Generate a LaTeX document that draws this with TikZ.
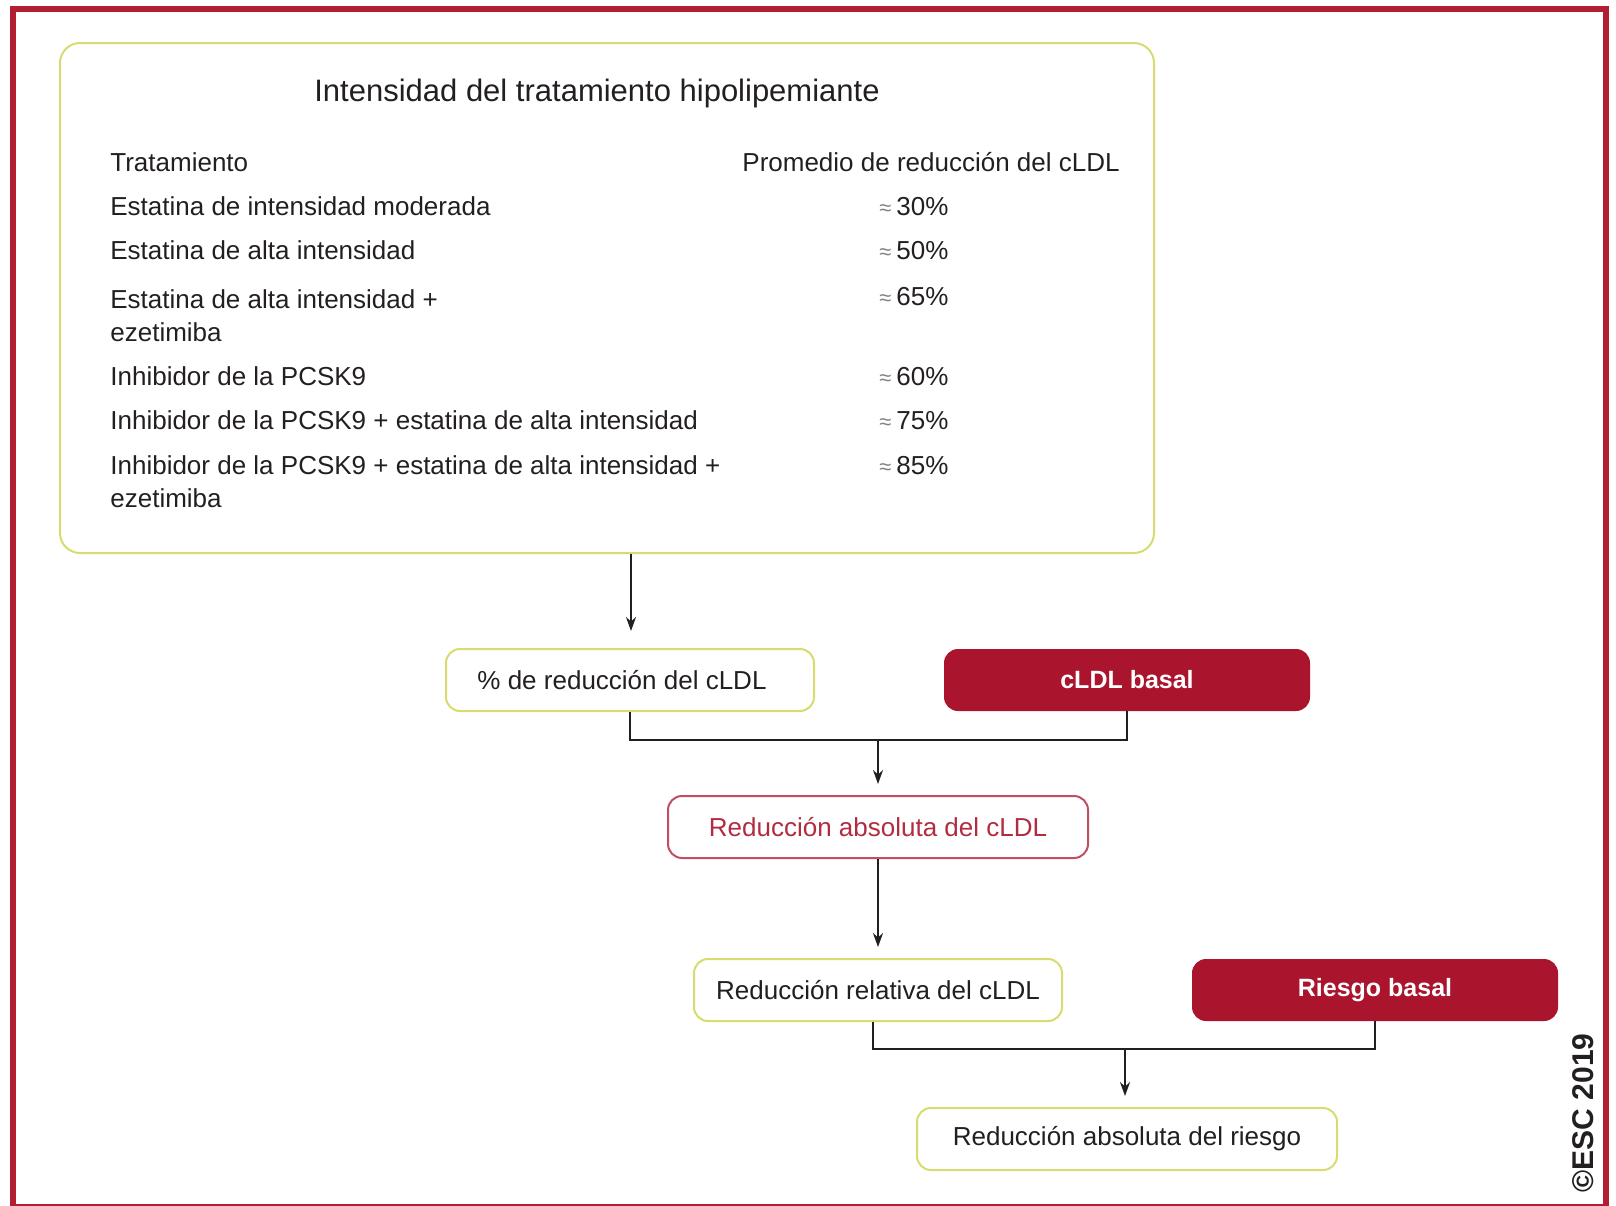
\documentclass[tikz,border=0pt]{standalone}
\usepackage{fontspec}
\setmainfont{Liberation Sans}
\usetikzlibrary{arrows.meta}
\definecolor{framered}{RGB}{178,30,50}
\definecolor{escred}{RGB}{170,20,44}
\definecolor{boxgreen}{RGB}{214,220,110}
\definecolor{txt}{RGB}{35,31,32}
\definecolor{apprx}{RGB}{130,130,130}
\newcommand{\bodyfont}{\fontsize{13}{16.5}\selectfont}
\newcommand{\ap}{{\color{apprx}\fontsize{11}{11}\selectfont ≈}\hspace{2.5pt}}
\tikzset{
	bigbox/.style={draw=boxgreen, line width=1pt, rounded corners=10pt, minimum width=547pt, minimum height=255pt},
	greenbox/.style={draw=boxgreen, line width=1pt, rounded corners=7pt, fill=white, minimum width=184pt, minimum height=31pt, text=txt, font=\bodyfont},
	redbox/.style={fill=escred, rounded corners=7pt, minimum width=183pt, minimum height=31pt, text=white, font=\bfseries\fontsize{12.5}{15}\selectfont},
	absbox/.style={greenbox, draw=escred!75, text=escred!90, minimum width=210pt},
	row/.style={anchor=west, inner sep=0pt, text=txt, font=\bodyfont, align=left},
	flow/.style={line width=0.9pt, draw=txt},
	arr/.style={flow, -{Stealth[length=7pt,width=5pt]}, shorten >=5.5pt}
}
\begin{document}
\begin{tikzpicture}[x=0.5pt,y=-0.5pt]
		\useasboundingbox (0,0) rectangle (1616,1205);
		% outer frame
		\draw[framered, line width=3pt] (12.5,9) rectangle (1605.5,1207);
		% table of treatments
		\node[bigbox] (tbl) at (607,298) {};
		\node[text=txt, font=\fontsize{15.5}{18}\selectfont] (title) at (597,93) {Intensidad del tratamiento hipolipemiante};
		\node[row] (h1) at (110,162) {Tratamiento};
		\node[row] (h2) at (742,162) {Promedio de reducción del cLDL};
		\node[row] (t1) at (110,206) {Estatina de intensidad moderada};
		\node[row] (t2) at (110,250) {Estatina de alta intensidad};
		\node[row] (t3) at (110,315.5) {Estatina de alta intensidad +\\ezetimiba};
		\node[row] (t4) at (110,376) {Inhibidor de la PCSK9};
		\node[row] (t5) at (110,420) {Inhibidor de la PCSK9 + estatina de alta intensidad};
		\node[row] (t6) at (110,481.5) {Inhibidor de la PCSK9 + estatina de alta intensidad +\\ezetimiba};
		\node[row] (v1) at (879,207) {\ap 30\%};
		\node[row] (v2) at (879,251) {\ap 50\%};
		\node[row] (v3) at (879,297) {\ap 65\%};
		\node[row] (v4) at (879,377) {\ap 60\%};
		\node[row] (v5) at (879,421) {\ap 75\%};
		\node[row] (v6) at (879,466) {\ap 85\%};
		% flow boxes
		\node[greenbox] (pct) at (630,680) {\hspace{-8pt}\% de reducción del cLDL};
		\node[redbox] (basal) at (1127,680) {cLDL basal};
		\node[absbox] (absc) at (878,827) {Reducción absoluta del cLDL};
		\node[greenbox] (rel) at (878,990) {Reducción relativa del cLDL};
		\node[redbox] (riesgo) at (1375,990) {Riesgo basal};
		\node[greenbox, minimum width=210pt] (absr) at (1127,1139) {Reducción absoluta del riesgo};
		\coordinate (j1) at (878,740);
		\coordinate (j2) at (1125,1049);
		% connectors
		\draw[arr, shorten >=9pt] (tbl.south -| 631,0) -- (631,649);
		\draw[flow] (pct.south) |- (j1) -| (basal.south);
		\draw[arr] (j1) -- (absc.north);
		\draw[arr] (absc.south) -- (rel.north);
		\draw[flow] ([xshift=-2.5pt]rel.south) |- (j2) -| (riesgo.south);
		\draw[arr] (j2) -- (j2 |- absr.north);
		\node[rotate=90, text=txt, font=\bfseries\fontsize{15}{15}\selectfont] (esc) at (1583,1113) {©ESC 2019};
	\end{tikzpicture}
\end{document}
